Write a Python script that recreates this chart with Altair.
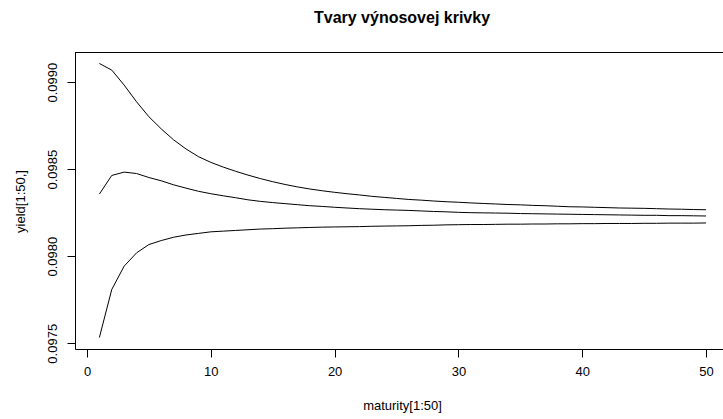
import altair as alt
import pandas as pd

maturity = list(range(1, 51))

yield_high = [
    0.099107, 0.099069, 0.098983, 0.098887, 0.098801, 0.098731, 0.098668, 0.098616, 0.098572, 0.098539,
    0.098512, 0.098488, 0.098466, 0.098446, 0.098428, 0.098412, 0.098398, 0.098386, 0.098376, 0.098367,
    0.098359, 0.098352, 0.098344, 0.098338, 0.098332, 0.098326, 0.098322, 0.098317, 0.098313, 0.098310,
    0.098306, 0.098303, 0.098300, 0.098297, 0.098295, 0.098292, 0.098290, 0.098287, 0.098284, 0.098283,
    0.098281, 0.098279, 0.098277, 0.098276, 0.098275, 0.098273, 0.098271, 0.098270, 0.098268, 0.098267,
]

yield_mid = [
    0.098357, 0.098464, 0.098483, 0.098475, 0.098452, 0.098433, 0.098410, 0.098391, 0.098373, 0.098359,
    0.098347, 0.098336, 0.098324, 0.098315, 0.098308, 0.098302, 0.098296, 0.098290, 0.098286, 0.098281,
    0.098277, 0.098273, 0.098270, 0.098267, 0.098265, 0.098263, 0.098260, 0.098257, 0.098255, 0.098252,
    0.098250, 0.098249, 0.098248, 0.098247, 0.098245, 0.098244, 0.098243, 0.098242, 0.098241, 0.098240,
    0.098239, 0.098238, 0.098237, 0.098236, 0.098235, 0.098235, 0.098233, 0.098233, 0.098232, 0.098231,
]

yield_low = [
    0.097533, 0.097809, 0.097943, 0.098019, 0.098067, 0.098090, 0.098109, 0.098122, 0.098131, 0.098140,
    0.098144, 0.098148, 0.098152, 0.098156, 0.098158, 0.098161, 0.098163, 0.098165, 0.098167, 0.098168,
    0.098169, 0.098170, 0.098172, 0.098173, 0.098174, 0.098175, 0.098177, 0.098178, 0.098180, 0.098181,
    0.098182, 0.098182, 0.098183, 0.098184, 0.098184, 0.098185, 0.098185, 0.098186, 0.098186, 0.098187,
    0.098187, 0.098188, 0.098188, 0.098188, 0.098189, 0.098189, 0.098190, 0.098190, 0.098190, 0.098191,
]

x_ticks = [0, 10, 20, 30, 40, 50]
y_ticks = [0.0975, 0.0980, 0.0985, 0.0990]

rows = []
for name, series in [("high", yield_high), ("mid", yield_mid), ("low", yield_low)]:
    for m, v in zip(maturity, series):
        rows.append({"maturity": m, "yield": v, "series": name})
df = pd.DataFrame(rows)

FONT = "Liberation Sans"
W, H = 648, 297

x_scale = alt.Scale(domain=[-0.97, 51.37], nice=False, zero=False)
y_scale = alt.Scale(domain=[0.097467, 0.099173], nice=False, zero=False)

lines = alt.Chart(df).mark_line(color="black", strokeWidth=1).encode(
    x=alt.X("maturity:Q", scale=x_scale,
            axis=alt.Axis(values=x_ticks, format="d", title="maturity[1:50]", grid=False,
                          domainColor="black", tickColor="black", tickSize=8,
                          labelFont=FONT, labelFontSize=13, labelColor="black", labelPadding=8,
                          labelFlush=False,
                          titleFont=FONT, titleFontSize=13, titleFontWeight="normal", titleColor="black",
                          titleBaseline="middle", titleX=327, titleY=56)),
    y=alt.Y("yield:Q", scale=y_scale,
            axis=alt.Axis(values=y_ticks, format=".4f", title="yield[1:50,]", grid=False,
                          domainColor="black", tickColor="black", tickSize=8,
                          labelFont=FONT, labelFontSize=13, labelColor="black", labelPadding=8,
                          labelAngle=270, labelAlign="center", labelBaseline="bottom", labelFlush=False,
                          titleFont=FONT, titleFontSize=13, titleFontWeight="normal", titleColor="black",
                          titleAngle=270, titleAlign="center", titleBaseline="middle",
                          titleX=-55, titleY=149)),
    detail="series:N",
)

top_border = alt.Chart(df).mark_rule(color="black", strokeWidth=1).encode(
    x=alt.value(0), x2=alt.value(W), y=alt.value(0.5)
)

chart = alt.layer(lines, top_border).properties(
    width=W, height=H,
    title=alt.TitleParams("Tvary výnosovej krivky", font=FONT, fontSize=16, fontWeight="bold",
                          color="black", anchor="middle", dx=3, offset=26),
    autosize=alt.AutoSizeParams(type="none"),
    padding={"left": 75, "top": 52, "right": 0, "bottom": 70},
).configure_view(stroke=None).configure(background="white")

chart.save("out.html", embed_options={"renderer": "svg", "actions": False})
